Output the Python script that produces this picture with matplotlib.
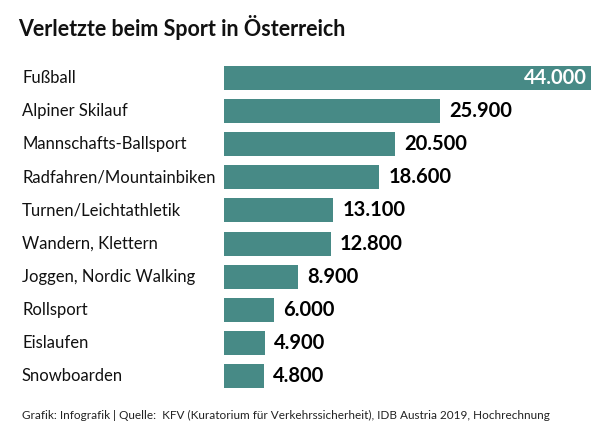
import matplotlib.pyplot as plt

# Daten
sportarten = ['Fußball', 'Alpiner Skilauf', 'Mannschafts-Ballsport', 'Radfahren/Mountainbiken',
              'Turnen/Leichtathletik', 'Wandern, Klettern', 'Joggen, Nordic Walking',
              'Rollsport', 'Eislaufen', 'Snowboarden']
verletzte = [44000, 25900, 20500, 18600, 13100, 12800, 8900, 6000, 4900, 4800]
wert_labels = ['44.000', '25.900', '20.500', '18.600', '13.100', '12.800', '8.900',
               '6.000', '4.900', '4.800']

plt.rcParams['font.family'] = ['Lato', 'DejaVu Sans']
farbe = '#478a86'

fig = plt.figure(figsize=(6.16, 4.33), dpi=100)
W, H = 616, 433
ax = fig.add_axes([224 / W, 1 - 393 / H, (591 - 224) / W, 332 / H])

y = list(range(len(sportarten)))
ax.barh(y, verletzte, height=0.72, color=farbe)
ax.set_xlim(0, 44000)
ax.set_ylim(len(sportarten) - 0.5, -0.5)
ax.axis('off')

# Werte an den Balken
for i, (v, lab) in enumerate(zip(verletzte, wert_labels)):
    if i == 0:
        ax.text(v - 500, i, lab, ha='right', va='center', color='white',
                fontsize=14.5, fontweight='bold')
    else:
        ax.text(v + 1100, i, lab, ha='left', va='center', color='black',
                fontsize=14.5, fontweight='bold')

# Kategorien links
for i, name in enumerate(sportarten):
    yf = 1 - (61 + 33.2 * (i + 0.5)) / H
    fig.text(22 / W, yf, name, ha='left', va='center', fontsize=12, color='#111111')

fig.text(18 / W, 1 - 28 / H, 'Verletzte beim Sport in Österreich', ha='left', va='center',
         fontsize=15.5, fontweight='bold', color='#111111')
fig.text(22 / W, 1 - 415 / H,
         'Grafik: Infografik | Quelle:  KFV (Kuratorium für Verkehrssicherheit), IDB Austria 2019, Hochrechnung',
         ha='left', va='center', fontsize=8.5, color='#222222')

fig.savefig('out.png', dpi=100)
